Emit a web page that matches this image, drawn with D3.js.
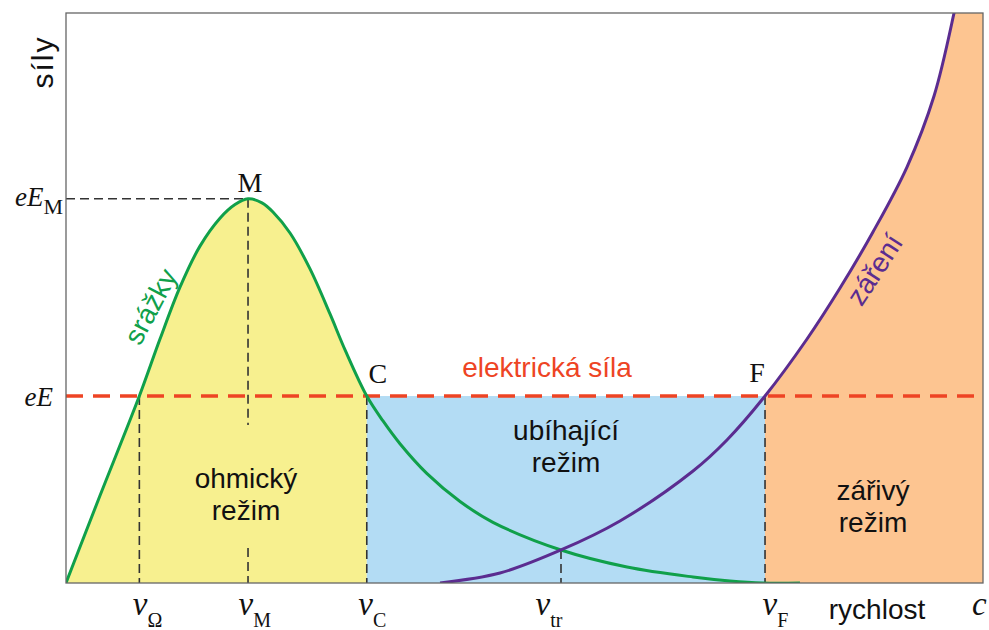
<!DOCTYPE html>
<html><head><meta charset="utf-8">
<script src="https://cdn.jsdelivr.net/npm/d3@7"></script>
<style>body{margin:0;background:#fff}svg{display:block}</style>
</head><body>
<svg id="chart" width="989" height="630"></svg>
<script>
// ---- data (velocity in units of c, force in units of the frame height) ----
const collisionV = [0, 0.013, 0.037, 0.080, 0.1025, 0.1243, 0.1461, 0.1679, 0.1843, 0.1985, 0.2137, 0.2257, 0.2443, 0.2661, 0.2879, 0.3043, 0.328, 0.3457, 0.3642, 0.3937, 0.4297, 0.4656, 0.5398, 0.6118, 0.6838, 0.7241, 0.7601, 0.8004];
const collisionF = [0, 0.054, 0.153, 0.328, 0.428, 0.519, 0.591, 0.640, 0.664, 0.674, 0.667, 0.651, 0.614, 0.551, 0.472, 0.409, 0.328, 0.2843, 0.2444, 0.1919, 0.1430, 0.1065, 0.0579, 0.0281, 0.0105, 0.0035, 0.000, 0.000];
const radiationV = [0.4079, 0.4733, 0.5398, 0.6041, 0.6838, 0.7208, 0.7623, 0.8081, 0.8441, 0.8800, 0.9171, 0.9466, 0.9684, 0.9738];
const radiationF = [0.000, 0.0175, 0.0579, 0.1088, 0.1965, 0.2509, 0.328, 0.4281, 0.5175, 0.6158, 0.7298, 0.8544, 1.000, 1.044];
const speedSubs = ["Ω", "M", "C", "tr", "F"];
const speedValues = [0.080, 0.1985, 0.328, 0.5398, 0.7623];
const forceSubs = ["", "M"];
const forceValues = [0.328, 0.674];
const regionNames = [["ohmický", "režim"], ["ubíhající", "režim"], ["zářivý", "režim"]];
const pointNames = ["M", "C", "F"];

const collision = collisionV.map((v, i) => ({v, f: collisionF[i]}));
const radiation = radiationV.map((v, i) => ({v, f: radiationF[i]}));
const [vOhm, vM, vC, vTr, vF] = speedValues;
const [fE, fEM] = forceValues;

const svg = d3.select("#chart");
const x = d3.scaleLinear().domain([0, 1]).range([66, 983]);
const y = d3.scaleLinear().domain([0, 1]).range([583, 13]);

const colGreen = "#10a04a", colPurple = "#5b2c90", colRed = "#ee4424";

svg.append("clipPath").attr("id", "frame").append("rect")
  .attr("x", x(0)).attr("y", y(1)).attr("width", x(1) - x(0)).attr("height", y(0) - y(1));

const plot = svg.append("g").attr("clip-path", "url(#frame)");
const curve = d3.curveCatmullRom.alpha(0.5);

// fills
plot.append("path")
  .datum(collision.filter(d => d.v <= vC))
  .attr("fill", "#f7f08f")
  .attr("d", d3.area().x(d => x(d.v)).y0(y(0)).y1(d => y(d.f)).curve(curve));

plot.append("rect")
  .attr("x", x(vC)).attr("y", y(fE))
  .attr("width", x(vF) - x(vC)).attr("height", y(0) - y(fE))
  .attr("fill", "#b3dcf4");

plot.append("path")
  .datum(radiation.filter(d => d.v >= vF).concat([{v: 1, f: 1.044}]))
  .attr("fill", "#fdc591")
  .attr("d", d3.area().x(d => x(d.v)).y0(y(0)).y1(d => y(d.f)).curve(curve));

// black dashed guides
const guides = plot.append("g").attr("stroke", "#333").attr("stroke-width", 1.6)
  .attr("stroke-dasharray", "9,5").attr("fill", "none");
guides.append("line").attr("x1", x(0)).attr("x2", x(vM)).attr("y1", y(fEM)).attr("y2", y(fEM));
guides.append("line").attr("x1", x(vM)).attr("x2", x(vM)).attr("y1", y(fEM)).attr("y2", 425);
guides.append("line").attr("x1", x(vM)).attr("x2", x(vM)).attr("y1", 548).attr("y2", y(0));
[vOhm, vC, vF].forEach(v => guides.append("line").attr("x1", x(v)).attr("x2", x(v)).attr("y1", y(fE)).attr("y2", y(0)));
guides.append("line").attr("x1", x(vTr)).attr("x2", x(vTr)).attr("y1", y(0.0579)).attr("y2", y(0));

// electric force
plot.append("line")
  .attr("x1", x(0)).attr("x2", x(1)).attr("y1", y(fE)).attr("y2", y(fE))
  .attr("stroke", colRed).attr("stroke-width", 3.4).attr("stroke-dasharray", "17,10");

// curves
const line = d3.line().x(d => x(d.v)).y(d => y(d.f)).curve(curve);
plot.append("path").datum(collision).attr("d", line)
  .attr("fill", "none").attr("stroke", colGreen).attr("stroke-width", 3);
plot.append("path").datum(radiation).attr("d", line)
  .attr("fill", "none").attr("stroke", colPurple).attr("stroke-width", 3);

// frame
svg.append("rect")
  .attr("x", x(0)).attr("y", y(1)).attr("width", x(1) - x(0)).attr("height", y(0) - y(1))
  .attr("fill", "none").attr("stroke", "#666").attr("stroke-width", 1.3);

const sans = "'Liberation Sans', Arial, sans-serif";
const serif = "'Liberation Serif', 'Times New Roman', serif";

// x axis labels
const xAxis = d3.axisBottom(x).tickValues(speedValues).tickSize(0).tickFormat("");
const gx = svg.append("g").attr("transform", `translate(0,${y(0)})`).call(xAxis);
gx.select(".domain").remove();
const xdx = [-7, -10, -9, -26, -3];
gx.selectAll(".tick").each(function(d, i) {
  const t = d3.select(this).append("text")
    .attr("x", xdx[i]).attr("y", 32).attr("fill", "#111")
    .attr("text-anchor", "start").attr("font-family", serif);
  t.append("tspan").attr("font-style", "italic").attr("font-size", 33).text("v");
  t.append("tspan").attr("font-size", 20).attr("dy", 12).text(speedSubs[i]);
});

svg.append("text").attr("x", 877).attr("y", 619).attr("text-anchor", "middle")
  .attr("font-family", sans).attr("font-size", 28).attr("fill", "#111").text("rychlost");
svg.append("text").attr("x", 972).attr("y", 615)
  .attr("font-family", serif).attr("font-style", "italic").attr("font-size", 33).attr("fill", "#111").text("c");

// y axis labels
const yAxis = d3.axisLeft(y).tickValues(forceValues).tickSize(0).tickFormat("");
const gy = svg.append("g").attr("transform", `translate(${x(0)},0)`).call(yAxis);
gy.select(".domain").remove();
const ydx = [-13, -3], ydy = [9, 7];
gy.selectAll(".tick").each(function(d, i) {
  const t = d3.select(this).append("text")
    .attr("x", ydx[i]).attr("y", ydy[i]).attr("fill", "#111")
    .attr("text-anchor", "end").attr("font-family", serif);
  t.append("tspan").attr("font-style", "italic").attr("font-size", 27).text("eE");
  if (forceSubs[i]) t.append("tspan").attr("font-size", 22).attr("dy", 8).text(forceSubs[i]);
});

svg.append("text").attr("transform", "translate(53,62) rotate(-90)")
  .attr("text-anchor", "middle").attr("font-family", sans).attr("font-size", 30)
  .attr("letter-spacing", 2).attr("fill", "#111").text("síly");

// point labels
const ptPos = [[x(vM) + 2, 192], [x(vC) + 11, 383], [x(vF) - 8, 382]];
pointNames.forEach((n, i) => svg.append("text").attr("x", ptPos[i][0]).attr("y", ptPos[i][1])
  .attr("text-anchor", "middle").attr("font-family", serif).attr("font-size", 28)
  .attr("fill", "#111").text(n));

// region labels
const regPos = [[246, 488], [566, 440], [873, 500]];
regionNames.forEach((lines, i) => {
  const t = svg.append("text").attr("text-anchor", "middle").attr("font-family", sans)
    .attr("font-size", 28).attr("fill", "#111");
  lines.forEach((s, j) => t.append("tspan").attr("x", regPos[i][0]).attr("y", regPos[i][1] + j * 31.5).text(s));
});

svg.append("text").attr("x", 547).attr("y", 377).attr("text-anchor", "middle")
  .attr("font-family", sans).attr("font-size", 28).attr("fill", colRed).text("elektrická síla");

svg.append("text").attr("transform", "translate(159,311) rotate(-62)")
  .attr("text-anchor", "middle").attr("font-family", sans).attr("font-size", 28)
  .attr("fill", colGreen).text("srážky");

svg.append("text").attr("transform", "translate(866,264) rotate(-57)")
  .attr("text-anchor", "middle").attr("font-family", sans).attr("font-size", 28)
  .attr("dy", 20).attr("fill", colPurple).text("záření");
</script>
</body></html>
